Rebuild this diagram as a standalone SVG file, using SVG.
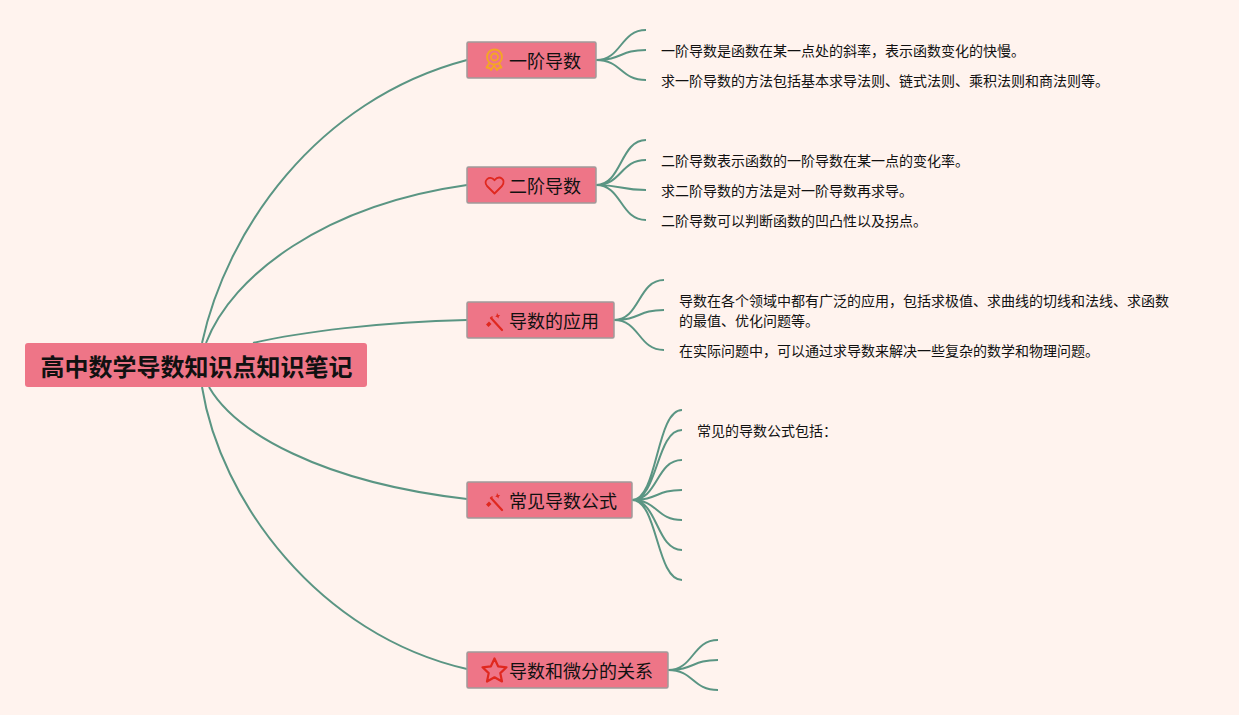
<svg xmlns="http://www.w3.org/2000/svg" width="1239" height="715" viewBox="0 0 1239 715">
<style>
text{font-family:"Noto Sans CJK SC","Liberation Sans",sans-serif;fill:#111}
.c{fill:none;stroke:#5a9583;stroke-width:2}
.b{fill:#ee7587;stroke:#a09a9a;stroke-width:1.500}
.bt{font-size:18px}
.l{font-size:14px}
.i{fill:none;stroke-width:1.800;stroke-linejoin:round;stroke-linecap:round}
.w{stroke-width:2.200}
</style>
<defs>
<g id="wand"><path class="i w" stroke="#e0281f" d="M-3-4L8 8"/><path d="M-8 2.500l3-3 2.500 2.500-3 3zM3-9l1.200 2 2 .2-1.400 1.400-.3 2-1.500-1.500-1.700-.3 1.300-1.500zM-2-6l1 1-1 1-1-1z" fill="#e0281f"/></g>
</defs>
<rect width="1239" height="715" fill="#fff3ee"/>
<g id="connectors">
<path class="c" d="M202 343C226 232 315 100 467 60"/>
<path class="c" d="M206 343C232 275 325 205 467 185"/>
<path class="c" d="M253 343C300 332 380 322 467 320"/>
<path class="c" d="M209 387C235 432 320 482 467 499"/>
<path class="c" d="M202 387C220 500 318 635 467 669"/>
<path class="c" d="M596 60C622 60 620 30 646 30M596 60C622 60 620 50 646 50M596 60C622 60 620 80 646 80"/>
<path class="c" d="M596 185C622 185 620 140 646 140M596 185C622 185 620 160 646 160M596 185C622 185 620 190 646 190M596 185C622 185 620 220 646 220"/>
<path class="c" d="M614 320C640 320 638 280 664 280M614 320C640 320 638 310 664 310M614 320C640 320 638 350 664 350"/>
<path class="c" d="M632 500C658 500 656 410 682 410M632 500C658 500 656 430 682 430M632 500C658 500 656 460 682 460M632 500C658 500 656 490 682 490M632 500C658 500 656 520 682 520M632 500C658 500 656 550 682 550M632 500C658 500 656 580 682 580"/>
<path class="c" d="M668 670C694 670 692 640 718 640M668 670C694 670 692 660 718 660M668 670C694 670 692 690 718 690"/>
</g>
<g id="root"><rect x="25" y="343" width="342" height="44" rx="3" fill="#ee7587"/><text x="40.500" y="376" font-size="24" font-weight="700" fill="#000">高中数学导数知识点知识笔记</text></g>
<g id="n1"><rect class="b" x="467" y="42" width="129" height="36" rx="1.500"/>
<g class="i" stroke="#f5a623"><circle cx="494.500" cy="57" r="7.500"/><circle cx="494.500" cy="57" r="3.500"/><path d="M489 63.500l-2.500 4 3 .5 1.500 2 3-4.500 3 4.500 1.500-2 3-.5-2.500-4"/></g>
<text class="bt" x="509" y="67.500">一阶导数</text></g>
<g id="n2"><rect class="b" x="467" y="167" width="129" height="36" rx="1.500"/>
<path class="i" stroke="#e0281f" d="M494.500 193.500l-7.500-7.500c-4.500-5 2.500-11.500 7.500-5.800 5-5.700 12-.8 7.500 5.800z"/>
<text class="bt" x="509" y="192.500">二阶导数</text></g>
<g id="n3"><rect class="b" x="467" y="302" width="147" height="36" rx="1.500"/>
<use href="#wand" x="494" y="322"/>
<text class="bt" x="509" y="327.500">导数的应用</text></g>
<g id="n4"><rect class="b" x="467" y="482" width="165" height="36" rx="1.500"/>
<use href="#wand" x="494" y="502"/>
<text class="bt" x="509" y="507.500">常见导数公式</text></g>
<g id="n5"><rect class="b" x="467" y="652" width="201" height="36" rx="1.500"/>
<path class="i w" stroke="#e0281f" d="M494.500 658.500l3.600 7.800 8.400 1-6.200 5.800 1.700 8.400-7.500-4.200-7.500 4.200 1.700-8.400-6.200-5.800 8.400-1z"/>
<text class="bt" x="509" y="677.500">导数和微分的关系</text></g>
<g id="leaves">
<text class="l" x="661" y="56">一阶导数是函数在某一点处的斜率，表示函数变化的快慢。</text>
<text class="l" x="661" y="86">求一阶导数的方法包括基本求导法则、链式法则、乘积法则和商法则等。</text>
<text class="l" x="661" y="166">二阶导数表示函数的一阶导数在某一点的变化率。</text>
<text class="l" x="661" y="196">求二阶导数的方法是对一阶导数再求导。</text>
<text class="l" x="661" y="226">二阶导数可以判断函数的凹凸性以及拐点。</text>
<text class="l" x="679" y="306">导数在各个领域中都有广泛的应用，包括求极值、求曲线的切线和法线、求函数</text>
<text class="l" x="679" y="326">的最值、优化问题等。</text>
<text class="l" x="679" y="356">在实际问题中，可以通过求导数来解决一些复杂的数学和物理问题。</text>
<text class="l" x="697" y="436">常见的导数公式包括：</text>
</g>
</svg>
